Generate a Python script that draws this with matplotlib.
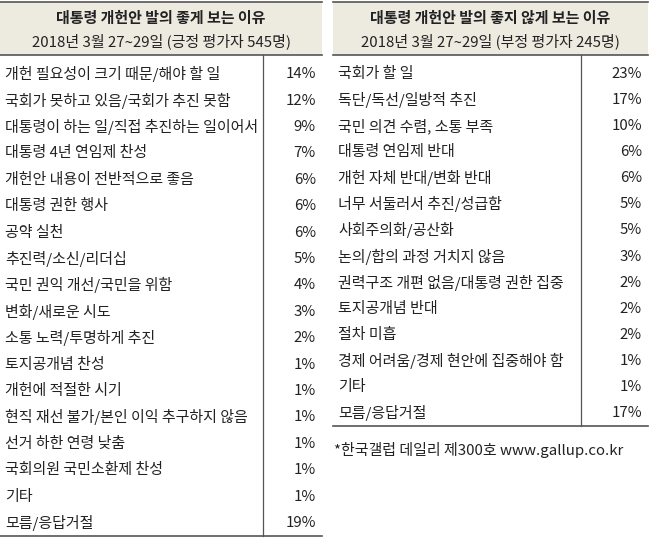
import matplotlib
matplotlib.use("Agg")
import matplotlib.pyplot as plt

plt.rcParams['font.family'] = ['Noto Sans CJK KR', 'DejaVu Sans']

left_title = "대통령 개헌안 발의 좋게 보는 이유"
left_sub = "2018년 3월 27~29일 (긍정 평가자 545명)"
left_items = ["개헌 필요성이 크기 때문/해야 할 일", "국회가 못하고 있음/국회가 추진 못함",
              "대통령이 하는 일/직접 추진하는 일이어서", "대통령 4년 연임제 찬성",
              "개헌안 내용이 전반적으로 좋음", "대통령 권한 행사", "공약 실천",
              "추진력/소신/리더십", "국민 권익 개선/국민을 위함", "변화/새로운 시도",
              "소통 노력/투명하게 추진", "토지공개념 찬성", "개헌에 적절한 시기",
              "현직 재선 불가/본인 이익 추구하지 않음", "선거 하한 연령 낮춤",
              "국회의원 국민소환제 찬성", "기타", "모름/응답거절"]
left_vals = [14, 12, 9, 7, 6, 6, 6, 5, 4, 3, 2, 1, 1, 1, 1, 1, 1, 19]

right_title = "대통령 개헌안 발의 좋지 않게 보는 이유"
right_sub = "2018년 3월 27~29일 (부정 평가자 245명)"
right_items = ["국회가 할 일", "독단/독선/일방적 추진", "국민 의견 수렴, 소통 부족",
               "대통령 연임제 반대", "개헌 자체 반대/변화 반대", "너무 서둘러서 추진/성급함",
               "사회주의화/공산화", "논의/합의 과정 거치지 않음", "권력구조 개편 없음/대통령 권한 집중",
               "토지공개념 반대", "절차 미흡", "경제 어려움/경제 현안에 집중해야 함", "기타", "모름/응답거절"]
right_vals = [23, 17, 10, 6, 6, 5, 5, 3, 2, 2, 2, 1, 1, 17]
footnote = "*한국갤럽 데일리 제300호 www.gallup.co.kr"

W, H = 650, 539
fig = plt.figure(figsize=(W/100, H/100), dpi=100)
ax = fig.add_axes([0, 0, 1, 1])
ax.set_xlim(0, W); ax.set_ylim(H, 0); ax.axis('off')

txt = '#222222'
def table(x0, x1, xsep, title, sub, items, vals, step):
    ax.add_patch(plt.Rectangle((x0, 2), x1-x0, 53, color='#EDEAE0', lw=0))
    ax.plot([x0, x1], [2, 2], color='#555555', lw=1.2)
    ax.plot([x0, x1], [55, 55], color='#555555', lw=1.2)
    cx = (x0 + x1) / 2
    ax.text(cx, 18, title, ha='center', va='center', fontsize=10.8, fontweight='bold', color=txt)
    ax.text(cx, 41, sub, ha='center', va='center', fontsize=10.8, color=txt)
    top = 61
    n = len(items)
    for i, (it, v) in enumerate(zip(items, vals)):
        yc = top + step*(i+0.5)
        ax.text(x0+5, yc, it, ha='left', va='center', fontsize=10.8, color=txt)
        ax.text(x1-6, yc, f"{v}%", ha='right', va='center', fontsize=10.8, color=txt)
    yb = top + step*n
    ax.plot([x0, x1], [yb, yb], color='#555555', lw=1.2)
    ax.plot([xsep, xsep], [55, yb], color='#555555', lw=0.9)
    return yb

table(0, 322, 263, left_title, left_sub, left_items, left_vals, 26.4)
bot = table(333, 648, 581, right_title, right_sub, right_items, right_vals, 26.07)
ax.text(334, bot+24, footnote, ha='left', va='center', fontsize=10.8, color=txt)

fig.savefig("out.png", dpi=100)
